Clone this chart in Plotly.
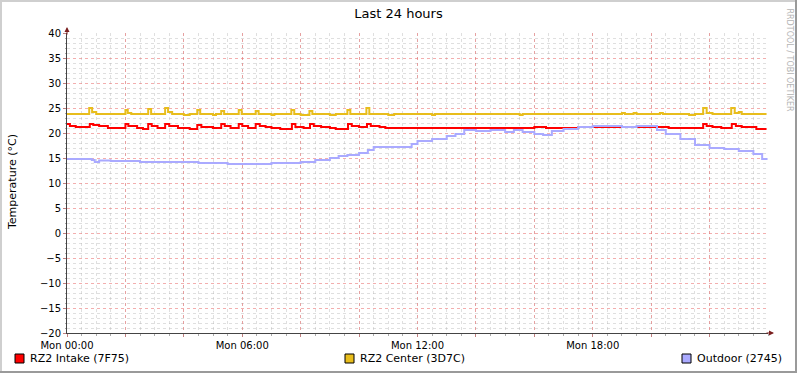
import plotly.graph_objects as go

# ---------------- data (hours since Mon 00:00, °C) ----------------
intake_t = [0.0, 0.1, 0.3, 0.78, 0.9, 1.1, 1.4, 2.0, 2.1, 2.4, 2.6, 2.78, 2.9, 3.1, 3.36, 3.5,
            3.8, 4.2, 4.46, 4.6, 5.0, 5.28, 5.4, 5.6, 5.88, 6.0, 6.2, 6.46, 6.6, 6.8, 7.0, 7.3,
            7.7, 7.82, 8.1, 8.32, 8.45, 8.7, 9.0, 9.2, 9.62, 9.75, 10.0, 10.27, 10.4, 10.7, 10.9,
            14.0, 16.0, 16.4, 17.5, 20.6, 21.2, 21.78, 21.9, 22.1, 22.4, 22.76, 22.9, 23.1, 23.6, 23.95]
intake_v = [21.8, 21.4, 21.2, 21.8, 21.6, 21.4, 21.0, 21.8, 21.4, 21.0, 20.8, 21.8, 21.4, 21.0, 21.8, 21.4,
            21.0, 20.8, 21.6, 21.2, 21.0, 21.8, 21.4, 21.0, 21.8, 21.4, 21.0, 21.8, 21.4, 21.2, 21.0, 20.8,
            21.8, 21.2, 21.0, 21.8, 21.4, 21.2, 21.0, 20.8, 21.8, 21.4, 21.2, 21.8, 21.4, 21.2, 21.0,
            21.0, 21.2, 21.0, 21.2, 21.0, 21.0, 21.8, 21.4, 21.2, 21.0, 21.8, 21.4, 21.2, 20.8, 20.8]

center_t = [0.0, 0.76, 0.86, 1.0, 2.0, 2.08, 2.2, 2.78, 2.88, 3.36, 3.46, 3.6, 4.0, 4.2, 4.46, 4.56,
            5.0, 5.1, 5.28, 5.38, 5.88, 5.98, 6.46, 6.56, 7.0, 7.1, 7.68, 7.78, 8.0, 8.3, 8.4, 9.0, 9.2,
            9.6, 9.7, 10.25, 10.35, 11.0, 11.2, 12.5, 12.6, 15.5, 15.6, 19.0, 19.1, 19.4, 19.5,
            20.3, 20.4, 21.3, 21.5, 21.78, 21.9, 22.1, 22.74, 22.86, 23.0, 23.1, 23.95]
center_v = [23.8, 25.0, 24.2, 23.8, 24.6, 24.0, 23.8, 24.8, 23.8, 25.0, 24.2, 23.8, 23.6, 23.8, 24.6, 23.8,
            23.6, 23.8, 24.4, 23.8, 24.6, 23.8, 24.4, 23.8, 23.6, 23.8, 24.6, 23.8, 23.6, 24.4, 23.8, 23.6, 23.8,
            24.6, 23.8, 25.0, 23.8, 23.6, 23.8, 23.6, 23.8, 23.6, 23.8, 24.0, 23.8, 24.0, 23.8,
            24.0, 23.8, 23.6, 23.8, 25.0, 24.0, 23.8, 25.0, 24.0, 24.2, 23.8, 23.8]

outdoor_t = [0.0, 0.5, 0.85, 0.95, 1.1, 1.5, 2.0, 2.5, 3.0, 3.5, 4.0, 4.5, 5.0, 5.5, 6.0, 6.5, 7.0,
             7.5, 8.0, 8.5, 9.0, 9.3, 9.6, 10.0, 10.3, 10.5, 11.0, 11.5, 11.8, 12.0, 12.5, 13.0, 13.3,
             13.6, 14.0, 14.5, 15.0, 15.3, 15.6, 16.0, 16.3, 16.6, 17.0, 17.5, 18.0, 18.5, 19.0, 19.5,
             20.0, 20.2, 20.5, 21.0, 21.5, 22.0, 22.5, 23.0, 23.5, 23.8, 23.95]
outdoor_v = [14.8, 14.8, 14.6, 14.2, 14.5, 14.4, 14.4, 14.2, 14.2, 14.2, 14.2, 14.0, 14.0, 13.8, 13.8, 13.8, 14.0,
             14.0, 14.2, 14.6, 15.0, 15.4, 15.6, 16.0, 16.6, 17.2, 17.2, 17.2, 17.8, 18.4, 18.8, 19.4, 19.8,
             20.6, 20.4, 20.6, 20.2, 20.6, 20.2, 19.8, 19.6, 20.4, 20.8, 21.2, 21.4, 21.4, 21.2, 21.4,
             21.4, 20.6, 19.8, 18.8, 17.6, 17.0, 16.8, 16.4, 15.8, 14.8, 14.6]

series_names = ["RZ2 Intake (7F75)", "RZ2 Center (3D7C)", "Outdoor (2745)"]
series_colors = ["#FF0000", "#E8BD1C", "#AAAAFF"]

x_tickvals = [0, 2, 4, 6, 8, 10, 12, 14, 16, 18, 20, 22]
x_ticktext = ["Mon 00:00", "", "", "Mon 06:00", "", "", "Mon 12:00", "", "", "Mon 18:00", "", ""]

title_text = "Last 24 hours"
y_title = "Temperature (°C)"
watermark = "RRDTOOL / TOBI OETIKER"

# ---------------- layout geometry ----------------
W, H = 797, 373
L, R, T, B = 67, 768, 33, 333
PW, PH = R - L, B - T


def px(xp):
    return (xp - L) / PW


def py(yp):
    return (B - yp) / PH


FONT = "DejaVu Sans"
MAJOR = "rgba(235,120,120,0.6)"
MINOR = "rgba(185,185,185,0.45)"

fig = go.Figure()
for t, v, name, col in zip([intake_t, center_t, outdoor_t], [intake_v, center_v, outdoor_v],
                           series_names, series_colors):
    fig.add_trace(go.Scatter(x=t, y=v, mode="lines", name=name, line=dict(color=col, width=2, shape="hv"),
                             showlegend=False, hoverinfo="skip"))

fig.update_layout(
    width=W, height=H,
    margin=dict(l=L, r=W - R, t=T, b=H - B, pad=0),
    paper_bgcolor="white", plot_bgcolor="white",
    font=dict(family=FONT, size=10, color="black"),
    title=dict(text=title_text, x=0.5, xanchor="center", y=1 - 13 / H, yanchor="middle",
               font=dict(family=FONT, size=13, color="black")),
    showlegend=False,
)

fig.update_xaxes(range=[0, 24], tickvals=x_tickvals, ticktext=x_ticktext,
                 showgrid=True, gridcolor=MAJOR, griddash="dot", gridwidth=1,
                 showline=True, linecolor="#444444", linewidth=1, zeroline=False,
                 ticks="outside", ticklen=3, tickcolor="#c08080",
                 tickfont=dict(family=FONT, size=10, color="black"),
                 minor=dict(dtick=0.5, showgrid=True, gridcolor=MINOR, griddash="dot", gridwidth=1,
                            ticks="outside", ticklen=2, tickcolor="#aaaaaa"))
fig.update_yaxes(range=[-20, 40], tick0=-20, dtick=5,
                 showgrid=True, gridcolor=MAJOR, griddash="dot", gridwidth=1,
                 showline=True, linecolor="#444444", linewidth=1, zeroline=False,
                 ticks="outside", ticklen=3, tickcolor="#c08080",
                 tickfont=dict(family=FONT, size=10, color="black"),
                 minor=dict(dtick=1, showgrid=True, gridcolor=MINOR, griddash="dot", gridwidth=1,
                            ticks="outside", ticklen=1, tickcolor="#aaaaaa"))

shapes = []
# outer frame (bevel)
shapes.append(dict(type="line", xref="paper", yref="paper", x0=px(0), x1=px(W), y0=py(1), y1=py(1),
                   line=dict(color="#cfcfcf", width=2)))
shapes.append(dict(type="line", xref="paper", yref="paper", x0=px(1), x1=px(1), y0=py(0), y1=py(H),
                   line=dict(color="#cfcfcf", width=2)))
shapes.append(dict(type="line", xref="paper", yref="paper", x0=px(0), x1=px(W), y0=py(H - 1), y1=py(H - 1),
                   line=dict(color="#9a9a9a", width=2)))
shapes.append(dict(type="line", xref="paper", yref="paper", x0=px(W - 1), x1=px(W - 1), y0=py(0), y1=py(H),
                   line=dict(color="#9a9a9a", width=2)))

annotations = []
# axis arrows
annotations.append(dict(xref="paper", yref="paper", x=px(774), y=0, ax=-9, ay=0, showarrow=True,
                        arrowhead=2, arrowsize=1, arrowwidth=1, arrowcolor="#7a1f1f", text=""))
annotations.append(dict(xref="paper", yref="paper", x=0, y=py(27), ax=0, ay=9, showarrow=True,
                        arrowhead=2, arrowsize=1, arrowwidth=1, arrowcolor="#7a1f1f", text=""))
# y title
annotations.append(dict(xref="paper", yref="paper", x=px(12), y=py(182), text=y_title, textangle=-90,
                        showarrow=False, xanchor="center", yanchor="middle",
                        font=dict(family=FONT, size=11, color="black")))
# watermark
annotations.append(dict(xref="paper", yref="paper", x=px(789), y=py(6), text=watermark, textangle=90,
                        showarrow=False, xanchor="center", yanchor="top",
                        font=dict(family=FONT, size=8, color="#b4b4b4")))

# legend (boxes + labels)
legend_x = [15, 345, 682]
for name, col, lx in zip(series_names, series_colors, legend_x):
    shapes.append(dict(type="rect", xref="paper", yref="paper", x0=px(lx), x1=px(lx + 9),
                       y0=py(363), y1=py(354), fillcolor=col, line=dict(color="black", width=1)))
    annotations.append(dict(xref="paper", yref="paper", x=px(lx + 13), y=py(358.5), text=name,
                            showarrow=False, xanchor="left", yanchor="middle",
                            font=dict(family=FONT, size=11, color="black")))

fig.update_layout(shapes=shapes, annotations=annotations)
fig.write_html("out.html", config={"displayModeBar": False},
               post_script="document.body.style.margin='0px';")
